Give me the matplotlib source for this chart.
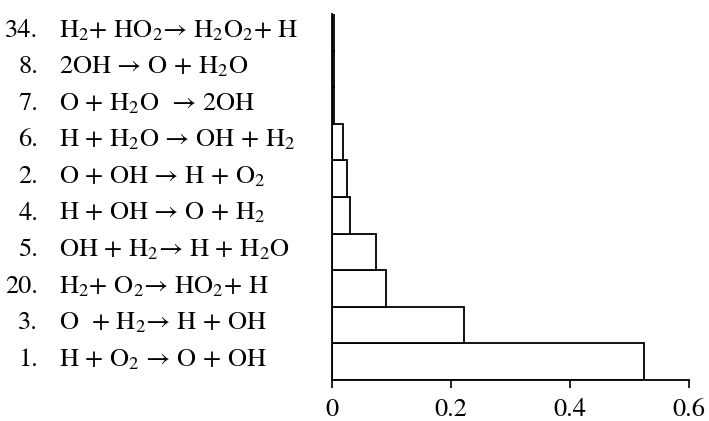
import numpy as np
import matplotlib.pyplot as plt
from matplotlib.transforms import blended_transform_factory

plt.rcParams['font.family'] = ['STIXGeneral', 'DejaVu Serif']
plt.rcParams['mathtext.fontset'] = 'stix'

# reactions, bottom to top
numbers = ['1.', '3.', '20.', '5.', '4.', '2.', '6.', '7.', '8.', '34.']
reactions = [
    'H + O$_2$ → O + OH',
    'O  + H$_2$→ H + OH',
    'H$_2$+ O$_2$→ HO$_2$+ H',
    'OH + H$_2$→ H + H$_2$O',
    'H + OH → O + H$_2$',
    'O + OH → H + O$_2$',
    'H + H$_2$O → OH + H$_2$',
    'O + H$_2$O  → 2OH',
    '2OH → O + H$_2$O',
    'H$_2$+ HO$_2$→ H$_2$O$_2$+ H',
]
values = [0.524, 0.222, 0.091, 0.074, 0.030, 0.026, 0.019, 0.004, 0.004, 0.004]

fig = plt.figure(figsize=(7.09, 4.21), dpi=100)
ax = fig.add_axes([0.468, 0.0974, 0.504, 0.869])

y = np.arange(len(values))
ax.barh(y, values, height=1.0, color='white', edgecolor='black', linewidth=1.3)

ax.set_xlim(0, 0.6)
ax.set_ylim(-0.5, len(values) - 0.5)
ax.set_xticks([0, 0.2, 0.4, 0.6])
ax.set_xticklabels(['0', '0.2', '0.4', '0.6'], fontsize=19)
ax.set_yticks([])
ax.tick_params(axis='x', direction='out', length=6, width=1.2, pad=7)
for s in ['top', 'right']:
    ax.spines[s].set_visible(False)
for s in ['left', 'bottom']:
    ax.spines[s].set_linewidth(1.3)

tr = blended_transform_factory(fig.transFigure, ax.transData)
for i in range(len(values)):
    ax.text(0.054, y[i] + 0.05, numbers[i], transform=tr, ha='right', va='center', fontsize=19)
    ax.text(0.083, y[i] + 0.05, reactions[i], transform=tr, ha='left', va='center', fontsize=19)

fig.savefig('out.png', dpi=100)
